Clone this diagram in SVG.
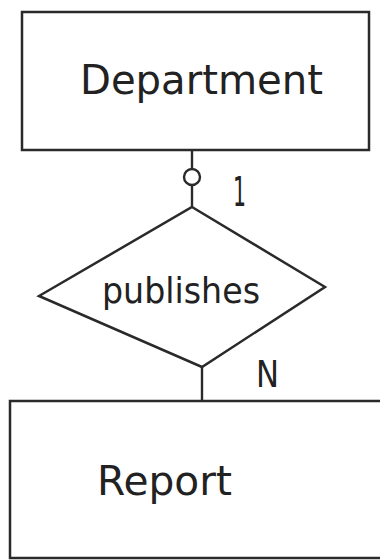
<svg xmlns="http://www.w3.org/2000/svg" width="380" height="560" viewBox="0 0 380 560">
<style>
.box{fill:#fff;stroke:#2a2a2a;stroke-width:2.5}
.ln{fill:none;stroke:#2a2a2a;stroke-width:2.4}
.t{font-family:"DejaVu Sans",sans-serif;fill:#222}
</style>
<rect width="380" height="560" fill="#fff"/>
<g id="connectors">
<line class="ln" x1="192" y1="150" x2="192" y2="169"/>
<circle class="ln" cx="192" cy="177" r="8"/>
<line class="ln" x1="192" y1="185" x2="192" y2="207"/>
<line class="ln" x1="202" y1="367" x2="202" y2="401"/>
<text class="t" x="233" y="206" font-size="40" textLength="13" lengthAdjust="spacingAndGlyphs">1</text>
<text class="t" x="256" y="387" font-size="38" textLength="23" lengthAdjust="spacingAndGlyphs">N</text>
</g>
<g id="department">
<rect class="box" x="22" y="12" width="347" height="138"/>
<text class="t" x="80" y="94" font-size="40" textLength="243" lengthAdjust="spacingAndGlyphs">Department</text>
</g>
<g id="publishes">
<polygon class="box" points="192,207 325,287 202,367 39,296"/>
<text class="t" x="102" y="303" font-size="35" textLength="158" lengthAdjust="spacingAndGlyphs">publishes</text>
</g>
<g id="report">
<rect class="box" x="10" y="401" width="372" height="157"/>
<text class="t" x="97" y="495" font-size="41" textLength="135" lengthAdjust="spacingAndGlyphs">Report</text>
</g>
</svg>
